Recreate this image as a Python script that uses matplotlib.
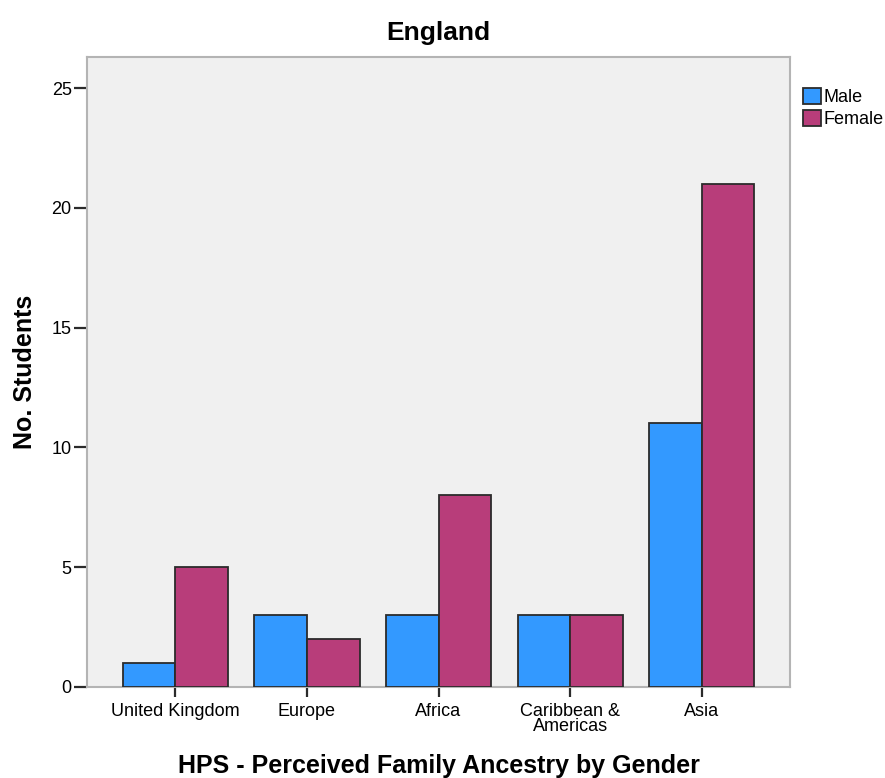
import matplotlib
matplotlib.use("Agg")
import matplotlib.pyplot as plt
import numpy as np
from matplotlib.patches import Patch

plt.rcParams['font.family'] = ['Liberation Sans', 'DejaVu Sans']

categories = ["United Kingdom", "Europe", "Africa", "Caribbean &\nAmericas", "Asia"]
male = [1, 3, 3, 3, 11]
female = [5, 2, 8, 3, 21]
series_names = ["Male", "Female"]
colors = ["#3399FF", "#B83D7A"]

fig = plt.figure(figsize=(8.85, 7.78), dpi=100)
ax = fig.add_axes([0.0983, 0.117, 0.7944, 0.8097])
ax.set_facecolor("#F0F0F0")

x = np.arange(len(categories))
w = 0.4
ax.bar(x - w/2, male, width=w, color=colors[0], edgecolor="#2b2b2b", linewidth=1.3, zorder=3)
ax.bar(x + w/2, female, width=w, color=colors[1], edgecolor="#2b2b2b", linewidth=1.3, zorder=3)

ax.set_xlim(-0.67, 4.67)
ax.set_ylim(0, 26.3)
ax.set_yticks([0, 5, 10, 15, 20, 25])
ax.set_xticks(x)
ax.set_xticklabels(categories, fontsize=13, linespacing=0.88)
ax.tick_params(axis='y', labelsize=13, length=9.5, width=1.6, color="#2b2b2b", pad=1.5)
ax.tick_params(axis='x', length=7.5, width=1.6, color="#2b2b2b", pad=4)

for s in ax.spines.values():
    s.set_color("#B4B4B4")
    s.set_linewidth(1.5)

ax.set_title("England", fontsize=19, fontweight="bold", pad=12)
ax.set_ylabel("No. Students", fontsize=18, fontweight="bold")
ax.yaxis.set_label_coords(-0.071, 0.5)
ax.set_xlabel("HPS - Perceived Family Ancestry by Gender", fontsize=18, fontweight="bold")
ax.xaxis.set_label_coords(0.5, -0.106)

handles = [Patch(facecolor=c, edgecolor="#2b2b2b", linewidth=1.3) for c in colors]
leg = ax.legend(handles, series_names, loc="upper left",
                bbox_to_anchor=(803/885, 1 - 88/778), bbox_transform=fig.transFigure,
                frameon=False, fontsize=13, handlelength=1.0, handleheight=1.0,
                handletextpad=0.15, labelspacing=0.2, borderaxespad=0, borderpad=0)

fig.savefig("out.png", dpi=100)
